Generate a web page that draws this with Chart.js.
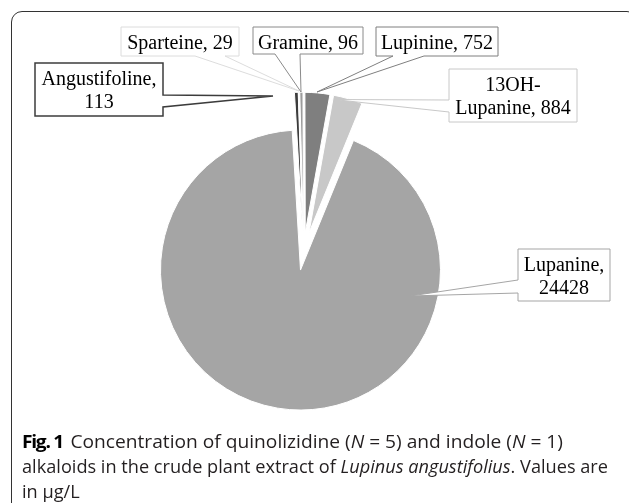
<!DOCTYPE html>
<html><head><meta charset="utf-8">
<script src="https://cdn.jsdelivr.net/npm/chart.js@4.4.0/dist/chart.umd.min.js"></script>
<style>
html,body{margin:0;padding:0;background:#fff;width:629px;height:503px;overflow:hidden;position:relative;}
#frame{position:absolute;left:10.5px;top:10.5px;width:627px;height:530px;border:1.2px solid #333;border-radius:11px;box-sizing:border-box;}
#wrap{position:absolute;left:0;top:0;width:629px;height:503px;}
#caption{position:absolute;left:22px;top:429px;font-family:'Open Sans',sans-serif;font-size:18px;color:#231f20;line-height:24.8px;white-space:nowrap;}
#caption .ln{display:block;height:24.8px;}
#caption .ln span.m{display:inline-block;transform-origin:0 0;}
#caption b{color:#000;font-weight:700;margin-right:7px;letter-spacing:-1.2px;}
</style></head>
<body>
<div id="frame"></div>
<div id="wrap"><canvas id="c" width="629" height="503"></canvas></div>
<div id="caption">
<div class="ln"><span class="m" id="l1"><b>Fig. 1</b>Concentration of quinolizidine (<i>N</i> = 5) and indole (<i>N</i> = 1)</span></div>
<div class="ln"><span class="m" id="l2">alkaloids in the crude plant extract of <i>Lupinus angustifolius</i>. Values are</span></div>
<div class="ln"><span class="m" id="l3">in μg/L</span></div>
</div>
<script>
// ---- data ----
const categories = ['Angustifoline', 'Sparteine', 'Gramine', 'Lupinine', '13OH-Lupanine', 'Lupanine'];
const values = [113, 29, 96, 752, 884, 24428];
const unit = 'μg/L';

// ---- style ----
const sliceColors = ['#3c3c3c', '#dcdcdc', '#9c9c9c', '#7f7f7f', '#c8c8c8', '#a5a5a5'];
const boxColors   = ['#3c3c3c', '#dcdcdc', '#8a8a8a', '#7f7f7f', '#c8c8c8', '#a5a5a5'];
const EXPLODE = 19;

// callout layout (box rectangle, side the pointer leaves from, pointer base, tip)
const callouts = [
  {wrap:'comma',  box:[35,63,128,53],  side:'right',  base:[95,107],  tip:[273,96],  lw:1.5},
  {wrap:'none',   box:[121,27,118,29], side:'bottom', base:[195,225], tip:[299,91],  lw:1},
  {wrap:'none',   box:[253,27,110,27], side:'bottom', base:[275,300], tip:[301,92],  lw:1},
  {wrap:'none',   box:[376,27,122,29], side:'bottom', base:[393,424], tip:[317,92],  lw:1},
  {wrap:'hyphen', box:[449,69,128,53], side:'left',   base:[100,112], tip:[334,99.5],lw:1},
  {wrap:'comma',  box:[518,249,92,52], side:'left',   base:[280,293], tip:[410,296], lw:1}
];

function labelLines(i) {
  const cat = categories[i], v = String(values[i]);
  const w = callouts[i].wrap;
  if (w === 'comma') return [cat + ',', v];
  if (w === 'hyphen') { const k = cat.indexOf('-'); return [cat.slice(0, k + 1), cat.slice(k + 1) + ', ' + v]; }
  return [cat + ', ' + v];
}

const explodePlugin = {
  id: 'explode',
  afterDatasetUpdate(chart, args) {
    args.meta.data.forEach(el => {
      const mid = (el.startAngle + el.endAngle) / 2;
      el.x += EXPLODE * Math.cos(mid);
      el.y += EXPLODE * Math.sin(mid);
    });
  }
};

const calloutPlugin = {
  id: 'callouts',
  afterDraw(chart) {
    const ctx = chart.ctx;
    ctx.save();
    callouts.forEach((c, i) => {
      const [x, y, w, h] = c.box;
      const [a, b] = c.base;
      const [tx, ty] = c.tip;
      ctx.beginPath();
      if (c.side === 'right') {
        ctx.moveTo(x, y); ctx.lineTo(x + w, y); ctx.lineTo(x + w, a); ctx.lineTo(tx, ty);
        ctx.lineTo(x + w, b); ctx.lineTo(x + w, y + h); ctx.lineTo(x, y + h);
      } else if (c.side === 'left') {
        ctx.moveTo(x, y); ctx.lineTo(x + w, y); ctx.lineTo(x + w, y + h); ctx.lineTo(x, y + h);
        ctx.lineTo(x, b); ctx.lineTo(tx, ty); ctx.lineTo(x, a);
      } else {
        ctx.moveTo(x, y); ctx.lineTo(x + w, y); ctx.lineTo(x + w, y + h); ctx.lineTo(b, y + h);
        ctx.lineTo(tx, ty); ctx.lineTo(a, y + h); ctx.lineTo(x, y + h);
      }
      ctx.closePath();
      ctx.fillStyle = '#ffffff';
      ctx.fill();
      ctx.lineWidth = c.lw;
      ctx.lineJoin = 'miter';
      ctx.strokeStyle = boxColors[i];
      ctx.stroke();
      const lines = labelLines(i);
      ctx.fillStyle = '#000';
      ctx.font = '20px "Liberation Serif", "Times New Roman", serif';
      ctx.textAlign = 'center';
      ctx.textBaseline = 'alphabetic';
      lines.forEach((t, k) => ctx.fillText(t, x + w / 2, y + 22 + k * 23.3));
    });
    ctx.restore();
  }
};

new Chart(document.getElementById('c'), {
  type: 'pie',
  data: {
    labels: categories,
    datasets: [{
      data: values,
      backgroundColor: sliceColors,
      borderColor: '#ffffff',
      borderWidth: 1
    }]
  },
  options: {
    responsive: false,
    animation: false,
    devicePixelRatio: 1,
    events: [],
    rotation: -3.4,
    radius: 140,
    layout: { padding: { left: 0, right: 21.8, top: 0, bottom: 0.4 } },
    plugins: { legend: { display: false }, tooltip: { enabled: false } }
  },
  plugins: [explodePlugin, calloutPlugin]
});

// fit caption line widths to the reference
(function () {
  const l1 = document.getElementById('l1');
  const l2 = document.getElementById('l2');
  const l3 = document.getElementById('l3');
  const s1 = 541 / l1.getBoundingClientRect().width;
  const s2 = 586 / l2.getBoundingClientRect().width;
  l1.style.transform = 'scaleX(' + s1 + ')';
  l2.style.transform = 'scaleX(' + s2 + ')';
  l3.style.transform = 'scaleX(' + s2 + ')';
})();
</script>
</body></html>
